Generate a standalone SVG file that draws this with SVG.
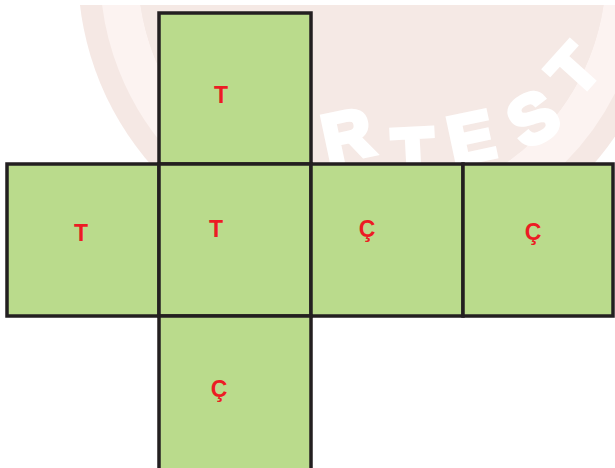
<svg xmlns="http://www.w3.org/2000/svg" width="615" height="468" viewBox="0 0 615 468">
  <style>
    .face { fill: #badb8c; stroke: #231f20; stroke-width: 3.5; }
    .lbl { font-family: "Liberation Sans", Arial, sans-serif; font-weight: bold; font-size: 23px; fill: #ec1c24; text-anchor: middle; }
    .wm { font-family: "Liberation Sans", Arial, sans-serif; font-weight: bold; font-size: 68px; fill: #ffffff; stroke: #ffffff; stroke-width: 5; stroke-linejoin: miter; text-anchor: middle; }
  </style>
  <defs>
    <clipPath id="wmclip">
      <rect x="0" y="5" width="615" height="463"/>
    </clipPath>
  </defs>
  <rect x="0" y="0" width="615" height="468" fill="#ffffff"/>

  <g id="watermark" clip-path="url(#wmclip)">
    <circle cx="372" cy="-29" r="294" fill="#f5e8e4"/>
    <circle cx="372" cy="-29" r="253" fill="none" stroke="#fcf3f1" stroke-width="38"/>
    <circle cx="372" cy="-29" r="234" fill="#f5e9e5"/>
    <text class="wm" transform="translate(347,135) rotate(-12)" y="24">R</text>
    <text class="wm" transform="translate(413,152) rotate(-3)" y="24">T</text>
    <text class="wm" transform="translate(471,137) rotate(-12)" y="24">E</text>
    <text class="wm" transform="translate(533,118) rotate(-30)" y="24">S</text>
    <text class="wm" transform="translate(573,69) rotate(-48)" y="23" style="font-size:64px">T</text>
  </g>

  <g id="connectors"></g>

  <g id="face-top">
    <rect class="face" x="159" y="13" width="152" height="151"/>
    <text class="lbl" x="221" y="103">T</text>
  </g>
  <g id="face-left">
    <rect class="face" x="7" y="164" width="152" height="152"/>
    <text class="lbl" x="81" y="241">T</text>
  </g>
  <g id="face-center">
    <rect class="face" x="159" y="164" width="152" height="152"/>
    <text class="lbl" x="216" y="237">T</text>
  </g>
  <g id="face-right1">
    <rect class="face" x="311" y="164" width="152" height="152"/>
    <text class="lbl" x="367" y="237">Ç</text>
  </g>
  <g id="face-right2">
    <rect class="face" x="463" y="164" width="150" height="152"/>
    <text class="lbl" x="533" y="240">Ç</text>
  </g>
  <g id="face-bottom">
    <rect class="face" x="159" y="316" width="152" height="156"/>
    <text class="lbl" x="219" y="397">Ç</text>
  </g>
</svg>
